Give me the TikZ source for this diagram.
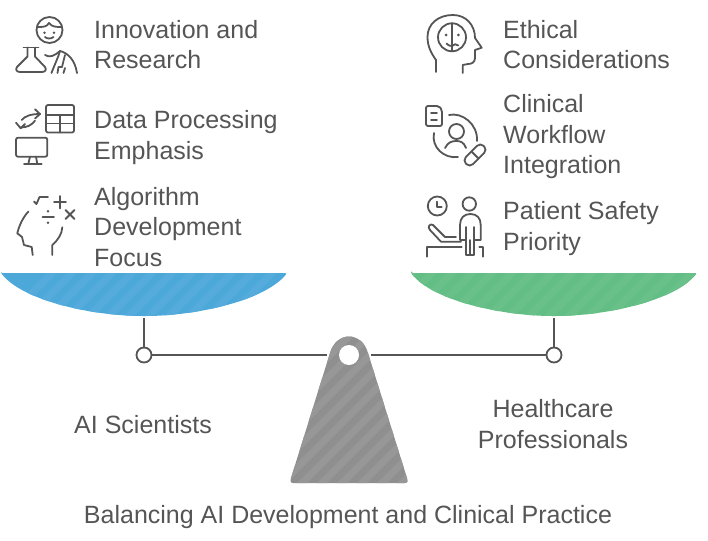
\documentclass[tikz,border=0pt]{standalone}
\usepackage{fontspec}
\setmainfont{Liberation Sans}
\definecolor{inkgray}{HTML}{555555}
\definecolor{panblue}{HTML}{4DA8DA}
\definecolor{stripeblue}{HTML}{55ABDC}
\definecolor{pangreen}{HTML}{62BE84}
\definecolor{stripegreen}{HTML}{69C189}
\definecolor{basegray}{HTML}{8F8F8F}
\definecolor{stripegray}{HTML}{979797}
\tikzset{
	label/.style={text=inkgray, align=left, anchor=west, inner sep=0pt, font=\fontsize{25}{30.5}\selectfont},
	caption/.style={label, align=center, anchor=center},
	icon/.style={draw=inkgray, line width=1.8pt, line cap=round, line join=round},
	beam/.style={draw=inkgray, line width=2.2pt},
	pivot/.style={circle, draw=inkgray, fill=white, line width=1.8pt, minimum size=15pt, inner sep=0pt}
}
\begin{document}
\begin{tikzpicture}[x=1pt,y=-1pt]
	\useasboundingbox (0,0) rectangle (708,540);

	% Pans
	\begin{scope}
		\clip[rounded corners=1.5pt] (1,273) -- (287,273) .. controls (265,301) and (195,316) .. (144,316) .. controls (93,316) and (23,301) .. (1,273) -- cycle;
		\fill[panblue] (0,270) rectangle (290,320);
		\foreach \i in {0,20,...,340}
			\fill[stripeblue] (\i,320) -- (\i+10,320) -- (\i+60,270) -- (\i+50,270) -- cycle;
	\end{scope}
	\begin{scope}
		\clip[rounded corners=1.5pt] (411,273) -- (697,273) .. controls (675,301) and (605,316) .. (554,316) .. controls (503,316) and (433,301) .. (411,273) -- cycle;
		\fill[pangreen] (410,270) rectangle (700,320);
		\foreach \i in {360,380,...,700}
			\fill[stripegreen] (\i,320) -- (\i+10,320) -- (\i+60,270) -- (\i+50,270) -- cycle;
	\end{scope}

	% Base
	\begin{scope}
		\clip (293,483) .. controls (290,483) and (290,480) .. (291,478) -- (330,353) .. controls (336,331) and (362,331) .. (368,353) -- (407,478) .. controls (408,480) and (408,483) .. (405,483) -- cycle;
		\fill[basegray] (285,330) rectangle (415,490);
		\foreach \i in {130,150,...,410}
			\fill[stripegray] (\i,490) -- (\i+10,490) -- (\i+170,330) -- (\i+160,330) -- cycle;
	\end{scope}

	% Beam
	\node[circle, fill=white, minimum size=20pt, inner sep=0pt] (hole) at (349,355) {};
	\coordinate (beamL) at (327,355);
	\coordinate (beamR) at (371,355);
	\coordinate (hangL) at (144,318);
	\coordinate (hangR) at (554,318);
	\node[pivot] (pivotL) at (144,355) {};
	\node[pivot] (pivotR) at (554,355) {};
	\draw[beam] (pivotL) -- (beamL);
	\draw[beam] (pivotR) -- (beamR);
	\draw[beam] (hangL) -- (pivotL);
	\draw[beam] (hangR) -- (pivotR);

	% Labels
	\node[label] (innovation) at (94,44.5) {Innovation and\\Research};
	\node[label] (data) at (94,137.5) {Data Processing\\Emphasis};
	\node[label] (algorithm) at (94,227) {Algorithm\\Development\\Focus};
	\node[label] (ethical) at (503,44.5) {Ethical\\Considerations};
	\node[label] (workflow) at (503,137) {Clinical\\Workflow\\Integration};
	\node[label] (safety) at (503,228.5) {Patient Safety\\Priority};
	\node[caption] (scientists) at (143,424.5) {AI Scientists};
	\node[caption] (professionals) at (553,424) {Healthcare\\Professionals};
	\node[caption] (title) at (348,517) {Balancing AI Development and Clinical Practice};

	% Scientist and flask
	\draw[icon] (49.5,30) circle (13pt);
	\draw[icon] (37,27) .. controls (43,27) and (47,27) .. (49,23) .. controls (52,27) and (56,27) .. (62,27);
	\fill[inkgray] (44.5,32.7) circle (1.4pt) (54,32.7) circle (1.4pt);
	\draw[icon] (45,37) .. controls (47,39) and (51,39) .. (53.5,37);
	\draw[icon] (23.5,47.5) -- (38.5,47.5);
	\draw[icon] (27.5,47.5) -- (27.5,56.5) -- (17,67) .. controls (15,70) and (17,72) .. (20,72) -- (42,72) .. controls (45,72) and (47,70) .. (45,67) -- (35,56.5) -- (35,47.5);
	\draw[icon] (45,55) .. controls (50,58) and (54,56) .. (60,51) .. controls (68,53) and (75,60) .. (77,73);
	\draw[icon] (60,51) .. controls (58,58) and (54,66) .. (51.5,73);
	\draw[icon] (65,55) -- (62,67) -- (58.5,67) -- (57.5,73);
	\draw[icon] (65,68) -- (63.5,73);

	% Table, arrows and monitor
	\draw[icon, rounded corners=2pt] (46,105) rectangle (74,132.5);
	\draw[icon] (46,115) -- (74,115);
	\draw[icon] (46,123.5) -- (74,123.5);
	\draw[icon] (60,115) -- (60,132.5);
	\draw[icon] (21.7,120) .. controls (25,116) and (31,114) .. (40,114);
	\draw[icon] (35,109.3) -- (40,114) -- (35,118.5);
	\draw[icon] (35,120.7) .. controls (32,125) and (27,127.5) .. (20.7,127.5);
	\draw[icon] (16,122.7) -- (20.7,128.3) -- (25,124);
	\draw[icon, rounded corners=2pt] (16,137.7) rectangle (47.3,156.7);
	\draw[icon] (30,156.7) -- (28.3,164) (36,156.7) -- (37.3,164) (24,164) -- (41.7,164);

	% Head and maths
	\draw[icon] (34,201.5) -- (36.5,204) -- (39.5,197) -- (48,197);
	\draw[icon] (60,196) -- (60,208.5) (54,202.3) -- (66,202.3);
	\draw[icon] (65.5,210) -- (74.5,219) (74.5,210) -- (65.5,219);
	\draw[icon] (42.5,217.3) -- (54,217.3);
	\fill[inkgray] (48,211.2) circle (1.4pt) (48,222.7) circle (1.4pt);
	\draw[icon] (28.5,211.5) .. controls (23,217) and (19,226) .. (17.3,233.3) -- (22,237) -- (24,245) -- (31.7,247) -- (32.7,255);
	\draw[icon] (62.3,227.3) .. controls (62,234) and (58,240) .. (52.3,245) -- (52.3,255);

	% Ethical head
	\draw[icon] (436,72) -- (436,60) .. controls (431,53) and (427.5,46) .. (427.5,37) .. controls (427.5,24) and (438,15) .. (453,15) .. controls (466,15) and (475,25) .. (475,38) -- (481.7,47.7) -- (475,50) -- (475,58) .. controls (475,62) and (472,64) .. (468,64) -- (462.7,65) -- (462.7,73);
	\draw[icon] (452,37.3) circle (14pt);
	\draw[icon] (452,23.3) -- (452,51.3);
	\fill[inkgray] (446,35) circle (1.5pt) (458.3,35) circle (1.5pt);
	\draw[icon] (446.5,43.5) .. controls (449,46) and (451,46) .. (452,46) .. controls (454,44) and (456,43.5) .. (458.3,45.5);

	% Document, person and pill
	\draw[icon, rounded corners=2pt] (426,106) -- (439,106) -- (442,110) -- (442,126) -- (426,126) -- cycle;
	\draw[icon] (431,113) -- (437,113) (431,120) -- (437,120);
	\draw[icon] (456.5,131.5) circle (7.5pt);
	\draw[icon] (445,148) .. controls (448,142) and (452,141) .. (456.5,141) .. controls (460,141) and (464,142) .. (466,148);
	\draw[icon] (449,115) .. controls (462,112) and (478,124) .. (477,141);
	\draw[icon] (434,133) .. controls (431,147) and (444,159) .. (458,157);
	\begin{scope}[shift={(475,155)}, rotate=45]
		\draw[icon, rounded corners=4.5pt] (-12.5,-5) rectangle (12.5,5);
		\draw[icon] (0,-5) -- (0,5);
	\end{scope}

	% Patient and clock
	\draw[icon] (437.3,206) circle (9.5pt);
	\draw[icon] (437.3,201.7) -- (437.3,206.7) -- (441.7,206.7);
	\draw[icon] (469.3,204) circle (6.7pt);
	\draw[icon] (465.7,240) -- (460,240) -- (460,225) .. controls (460,218) and (464,214) .. (470.3,214) .. controls (477,214) and (480.7,218) .. (480.7,225) -- (480.7,240) -- (474.3,240);
	\draw[icon] (465.7,227) -- (465.7,255) -- (474.3,255) -- (474.3,227);
	\draw[icon] (470,240) -- (470,255);
	\draw[icon] (433,225) -- (445,237) -- (456,237);
	\draw[icon] (430,230) -- (441,241.7) -- (461,241.7);
	\draw[icon] (433,225) .. controls (430,223) and (427,227) .. (430,230);
	\draw[icon] (426.7,256.7) -- (426.7,246.7) -- (461.7,246.7);
	\draw[icon] (479.3,247.3) -- (483.3,247.3) -- (483.3,256.7);
\end{tikzpicture}
\end{document}
